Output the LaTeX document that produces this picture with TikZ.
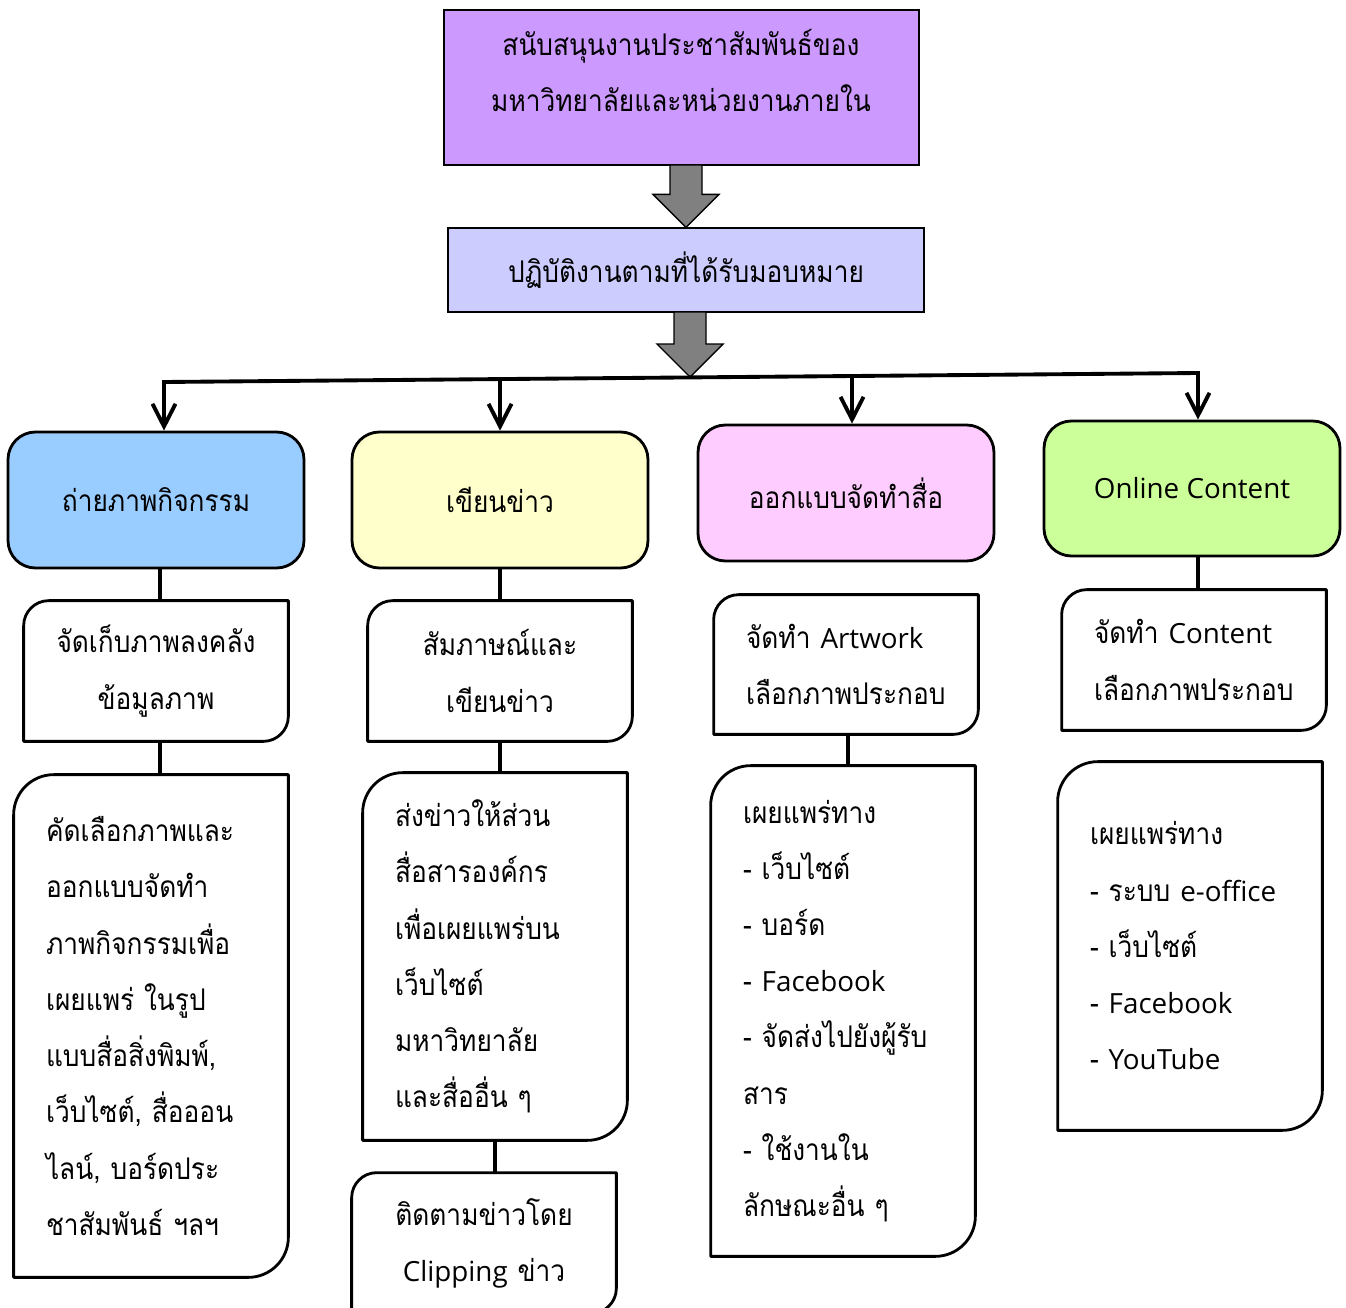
\documentclass[tikz,border=0pt]{standalone}
\usepackage{fontspec}
\setmainfont[Script=Thai, FakeStretch=0.88]{Loma}
\newfontfamily\latn[Scale=0.93]{Open Sans}
\newcommand{\lat}[1]{{\latn #1}}
\usetikzlibrary{calc,arrows.meta}

\definecolor{topvio}{HTML}{CC99FF}
\definecolor{midvio}{HTML}{CCCCFF}
\definecolor{cblue}{HTML}{99CCFF}
\definecolor{cyell}{HTML}{FFFFCC}
\definecolor{cpink}{HTML}{FFCCFF}
\definecolor{cgreen}{HTML}{CCFF99}
\definecolor{arrgray}{HTML}{808080}

% box with rounded top-left and bottom-right corners
\newcommand{\leafbox}[2]{%
  \draw[line width=1.6pt, line join=round]
    ([yshift=-#2]#1.north west) .. controls ([yshift=-0.45*#2]#1.north west) and ([xshift=0.45*#2]#1.north west) .. ([xshift=#2]#1.north west)
    -- (#1.north east) -- ([yshift=#2]#1.south east)
    .. controls ([yshift=0.45*#2]#1.south east) and ([xshift=-0.45*#2]#1.south east) .. ([xshift=-#2]#1.south east)
    -- (#1.south west) -- cycle;}

% thick grey block arrow from #1 (top centre) down to #2 (tip)
\newcommand{\fatarrow}[2]{%
  \draw[fat] ($(#1)+(-16,0)$) -- ($(#1)+(16,0)$) -- ($(#1 |- #2)+(16,-33)$) -- ($(#1 |- #2)+(33,-33)$)
    -- (#1 |- #2) -- ($(#1 |- #2)+(-33,-33)$) -- ($(#1 |- #2)+(-16,-33)$) -- cycle;}

\begin{document}
\begin{tikzpicture}[x=0.02cm, y=-0.02cm, every node/.style={font=\fontsize{17}{32}\selectfont}]
  % -----------------------------
  % STYLES
  % -----------------------------
  \tikzset{
    hbox/.style={draw, line width=0.8pt, minimum width=476*0.02cm},
    cbox/.style={draw, line width=1.6pt, rounded corners=0.55cm, minimum width=296*0.02cm, minimum height=136*0.02cm},
    wbox/.style={minimum width=264*0.02cm, inner xsep=0.64cm, text width=4cm},
    lnk/.style={line width=2.2pt},
    tip/.style={-{Straight Barb[length=0.45cm, width=0.46cm, line width=2.2pt]}},
    fat/.style={line width=0.8pt, fill=arrgray, line join=miter},
  }

  \useasboundingbox (0,0) rectangle (1346,1308);
  \clip (0,0) rectangle (1346,1308);

  % -----------------------------
  % TOP BOXES
  % -----------------------------
  \node[hbox, fill=topvio, minimum width=475*0.02cm, minimum height=155*0.02cm] (top) at (681.5,87.5) {};
  \node[align=center] (toptxt) at (681,70.5) {สนับสนุนงานประชาสัมพันธ์ของ\\มหาวิทยาลัยและหน่วยงานภายใน};
  \node[hbox, fill=midvio, minimum height=84*0.02cm] (mid) at (686,270) {ปฏิบัติงานตามที่ได้รับมอบหมาย};

  \coordinate (arrA) at (686,165);
  \coordinate (arrB) at (690,312);
  \coordinate (busTip) at (690,377);
  \fatarrow{arrA}{mid.north}
  \fatarrow{arrB}{busTip}

  % -----------------------------
  % COLOURED BOXES
  % -----------------------------
  \node[cbox, fill=cblue]  (blue)   at (156,500)    {ถ่ายภาพกิจกรรม};
  \node[cbox, fill=cyell]  (yellow) at (500,500)    {เขียนข่าว};
  \node[cbox, fill=cpink]  (pink)   at (846,493)    {ออกแบบจัดทำสื่อ};
  \node[cbox, fill=cgreen, minimum height=135*0.02cm] (green) at (1192,488.5) {\lat{Online Content}};

  % bus line + arrows
  \coordinate (busL) at (164,382);
  \coordinate (busR) at (1198,373);
  \coordinate (busB) at ($(busL)!0.325!(busR)$);
  \coordinate (busC) at ($(busL)!0.6654!(busR)$);

  \draw[lnk, {Straight Barb[length=0.45cm, width=0.46cm, line width=2.2pt]}-{Straight Barb[length=0.45cm, width=0.46cm, line width=2.2pt]}]
    (busL |- blue.north) -- (busL) -- (busR) -- (busR |- green.north);
  \draw[lnk, tip] (busB) -- (busB |- yellow.north);
  \draw[lnk, tip] (busC) -- (busC |- pink.north);

  % -----------------------------
  % WHITE BOXES
  % -----------------------------
  \node[wbox, align=center, minimum height=140*0.02cm] (a1) at (156,671) {จัดเก็บภาพลงคลัง\\ข้อมูลภาพ};
  \node[wbox, align=center, minimum height=140*0.02cm] (b1) at (500,671) {สัมภาษณ์และ\\เขียนข่าว};
  \node[wbox, align=left, minimum height=139*0.02cm] (c1) at (846,664.5) {จัดทำ \lat{Artwork}\\เลือกภาพประกอบ};
  \node[wbox, align=left, minimum height=140*0.02cm] (d1) at (1194,660) {จัดทำ \lat{Content}\\เลือกภาพประกอบ};

  \node[wbox, align=left, minimum width=274*0.02cm, text width=4.2cm, minimum height=502*0.02cm] (a2) at (151,1026)
    {คัดเลือกภาพและ\\ออกแบบจัดทำ\\ภาพกิจกรรมเพื่อ\\เผยแพร่ ในรูป\\แบบสื่อสิ่งพิมพ์,\\เว็บไซต์, สื่อออน\\ไลน์, บอร์ดประ\\ชาสัมพันธ์ ฯลฯ};
  \node[wbox, align=left, minimum height=367*0.02cm] (b2) at (495,956.5)
    {ส่งข่าวให้ส่วน\\สื่อสารองค์กร\\เพื่อเผยแพร่บน\\เว็บไซต์\\มหาวิทยาลัย\\และสื่ออื่น ๆ};
  \node[wbox, align=left, minimum height=490*0.02cm] (c2) at (843,1011)
    {เผยแพร่ทาง\\- เว็บไซต์\\- บอร์ด\\- \lat{Facebook}\\- จัดส่งไปยังผู้รับ\\สาร\\- ใช้งานใน\\ลักษณะอื่น ๆ};
  \node[wbox, align=left, minimum height=368*0.02cm] (d2) at (1190,946)
    {เผยแพร่ทาง\\- ระบบ \lat{e-office}\\- เว็บไซต์\\- \lat{Facebook}\\- \lat{YouTube}};
  \node[wbox, align=center, minimum height=140*0.02cm] (b3) at (484,1243) {ติดตามข่าวโดย\\\lat{Clipping} ข่าว};

  \foreach \n in {a1,b1,c1,d1,b3} {\leafbox{\n}{0.5cm}}
  \foreach \n in {a2,b2,c2,d2} {\leafbox{\n}{0.8cm}}

  % -----------------------------
  % CONNECTORS
  % -----------------------------
  \draw[lnk] ([xshift=0.08cm]blue.south) -- ([xshift=0.08cm]blue.south |- a1.north);
  \draw[lnk] ([xshift=0.08cm]a1.south) -- ([xshift=0.08cm]a1.south |- a2.north);
  \draw[lnk] (yellow.south) -- (yellow.south |- b1.north);
  \draw[lnk] (b1.south) -- (b1.south |- b2.north);
  \draw[lnk] (b2.south) -- (b2.south |- b3.north);
  \draw[lnk] ([xshift=0.04cm]c1.south) -- ([xshift=0.04cm]c1.south |- c2.north);
  \draw[lnk] ([xshift=0.12cm]green.south) -- ([xshift=0.12cm]green.south |- d1.north);
\end{tikzpicture}
\end{document}
